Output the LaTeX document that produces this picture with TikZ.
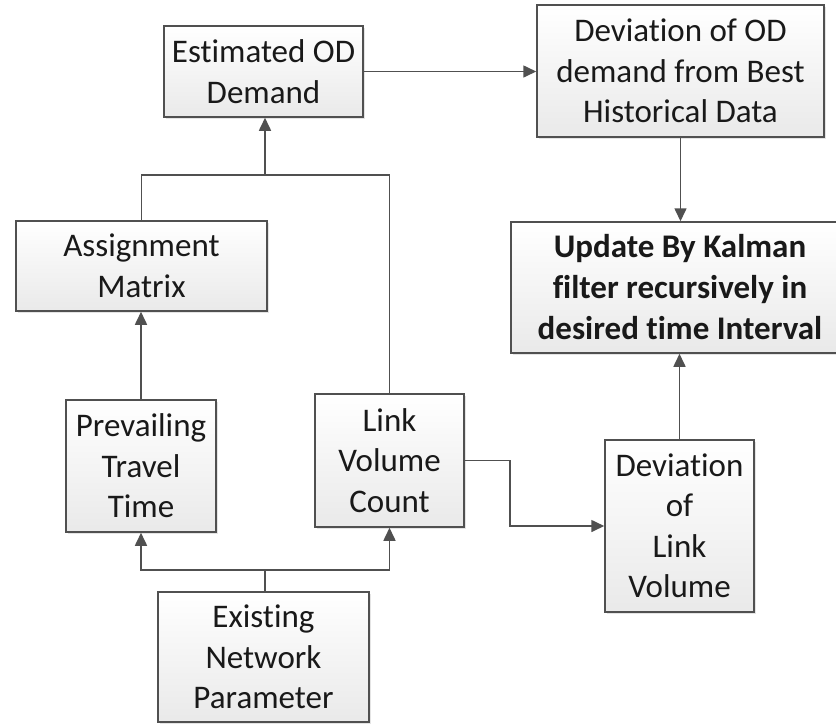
\documentclass[tikz,border=0pt]{standalone}
\usepackage{fontspec}
\setmainfont{Carlito}[Ligatures={NoCommon}]
\usetikzlibrary{arrows.meta,shadows,calc}
\definecolor{lc}{HTML}{505050}
\begin{document}
\begin{tikzpicture}[x=1pt,y=-1pt,
  box/.style={draw=lc,line width=1.5pt,rectangle,align=center,
    top color=white,bottom color=gray!17,
    drop shadow={shadow xshift=2pt,shadow yshift=-2pt,fill=gray!35,opacity=0.6},
    font=\fontsize{33}{40.5}\selectfont,inner sep=0pt,text=black!90},
  conn/.style={draw=lc,line width=1.6pt},
  arr/.style={conn,-{Triangle[length=13pt,width=12pt]}}]
\clip (0,0) rectangle (836,724);
\fill[white] (0,0) rectangle (836,724);
\node[box,minimum width=199pt,minimum height=91pt] (od) at (263.5,71.5) {Estimated OD\\Demand};
\node[box,minimum width=287pt,minimum height=132pt] (devod) at (680.5,71) {Deviation of OD\\demand from Best\\Historical Data};
\node[box,minimum width=251pt,minimum height=90pt] (assign) at (141.5,266) {Assignment\\Matrix};
\node[box,minimum width=150pt,minimum height=132pt] (prev) at (141,466) {Prevailing\\Travel\\Time};
\node[box,minimum width=149pt,minimum height=133pt] (link) at (389.5,460.5) {Link\\Volume\\Count};
\node[box,minimum width=338pt,minimum height=131pt,font=\fontsize{33}{41}\selectfont\bfseries] (update) at (680,287.5) {Update By Kalman\\filter recursively in\\desired time Interval};
\node[box,minimum width=149pt,minimum height=172pt] (devlink) at (679.5,526) {Deviation\\of\\Link\\Volume};
\node[box,minimum width=211pt,minimum height=130pt] (exist) at (263.5,657) {Existing\\Network\\Parameter};
\coordinate (jtop) at (265,175);
\coordinate (jbot) at (265,570);
\coordinate (elb) at (510,460.5);
% connectors
\draw[arr] (od.east) -- (od.east -| devod.west);
\draw[arr] (devod.south) -- (update.north -| devod.south);
\draw[conn] (assign.north) |- (jtop);
\draw[conn] (link.north) |- (jtop);
\draw[arr] (jtop) -- (jtop |- od.south);
\draw[arr] (prev.north) -- (prev.north |- assign.south);
\draw[conn] (exist.north -| jbot) -- (jbot);
\draw[arr] (jbot) -| (prev.south);
\draw[arr] (jbot) -| (link.south);
\draw[arr] (link.east) -- (elb) |- (devlink.west);
\draw[arr] (devlink.north) -- (devlink.north |- update.south);
\end{tikzpicture}
\end{document}
